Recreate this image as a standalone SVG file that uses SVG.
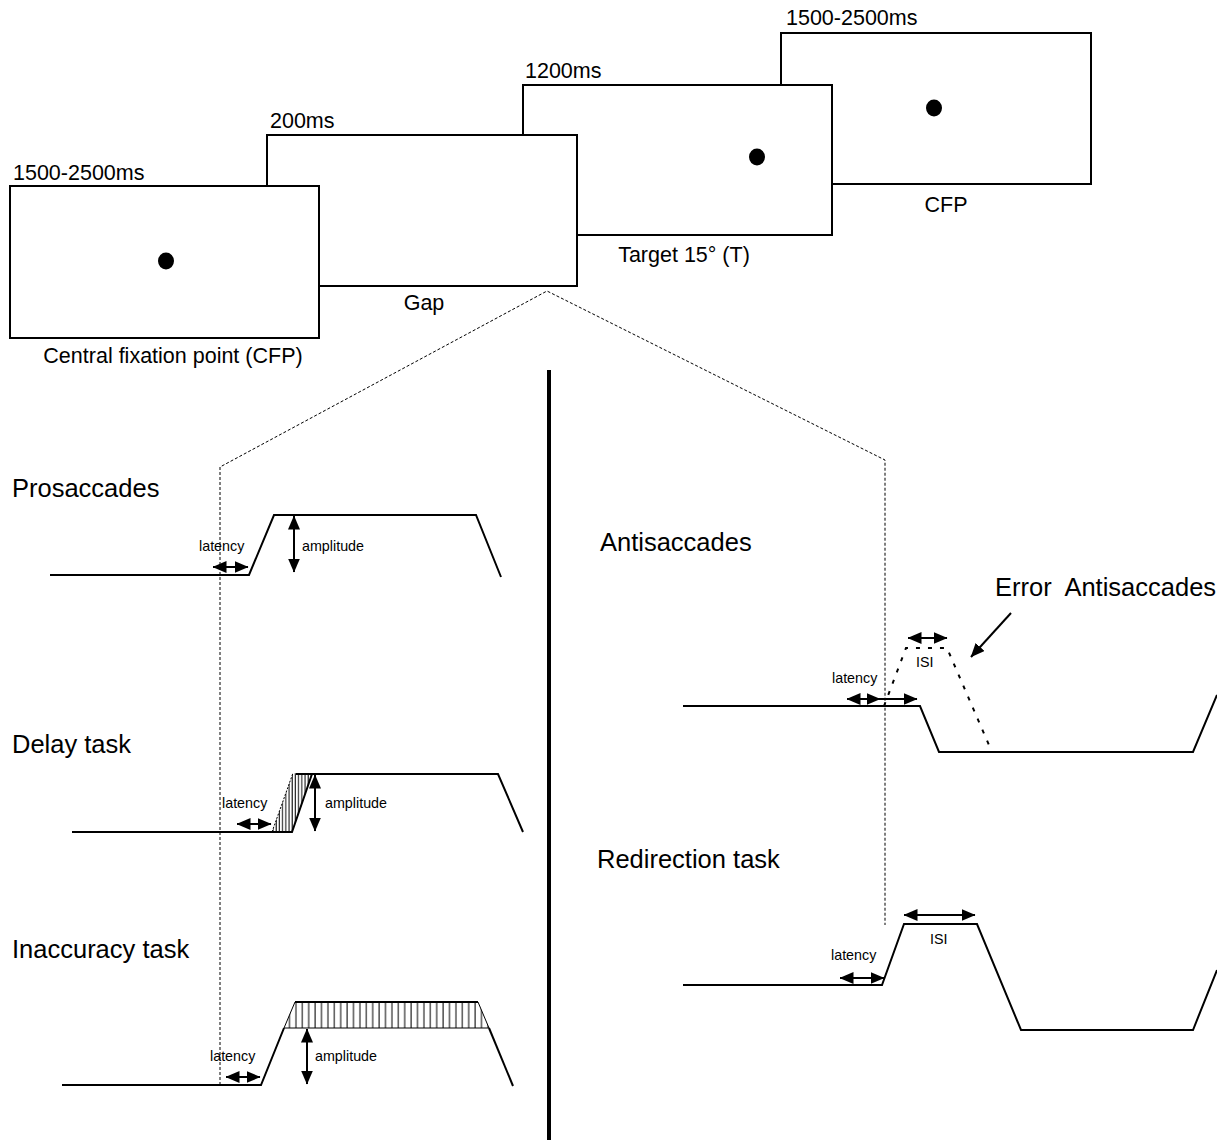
<svg xmlns="http://www.w3.org/2000/svg" width="1217" height="1140" viewBox="0 0 1217 1140">
<style>
text{font-family:"Liberation Sans",Arial,sans-serif;fill:#000}
.lab{font-size:21.5px}
.ttl{font-size:25.5px}
.sm{font-size:14.3px}
.box{fill:#fff;stroke:#000;stroke-width:2}
.tr{fill:none;stroke:#000;stroke-width:2;stroke-linejoin:miter}
.thin{fill:none;stroke:#000;stroke-width:1}
.dash{fill:none;stroke:#000;stroke-width:1;stroke-dasharray:3,2}
.arr{stroke:#000;stroke-width:2;marker-start:url(#ah);marker-end:url(#ah)}
</style>
<defs>
<marker id="ah" viewBox="0 0 14 12" refX="13.5" refY="6" markerWidth="14" markerHeight="12" markerUnits="userSpaceOnUse" orient="auto-start-reverse"><path d="M0,0 L14,6 L0,12 z" fill="#000"/></marker>
<pattern id="hd" width="3.2" height="10" patternUnits="userSpaceOnUse"><line x1="1" y1="0" x2="1" y2="10" stroke="#000" stroke-width="1"/></pattern>
<pattern id="hi" width="6.4" height="10" patternUnits="userSpaceOnUse" x="0.5"><line x1="1" y1="0" x2="1" y2="10" stroke="#000" stroke-width="1"/></pattern>
</defs>

<g id="screens">
<g id="box4"><rect class="box" x="781" y="33" width="310" height="151"/><ellipse cx="934" cy="108" rx="8" ry="8.5"/><text class="lab" x="786" y="25">1500-2500ms</text><text class="lab" x="946" y="212" text-anchor="middle">CFP</text></g>
<g id="box3"><rect class="box" x="523" y="85" width="309" height="150"/><ellipse cx="757" cy="157" rx="8" ry="8.5"/><text class="lab" x="525" y="78">1200ms</text><text class="lab" x="684" y="262" text-anchor="middle">Target 15° (T)</text></g>
<g id="box2"><rect class="box" x="267" y="135" width="310" height="151"/><text class="lab" x="270" y="128">200ms</text><text class="lab" x="424" y="310" text-anchor="middle">Gap</text></g>
<g id="box1"><rect class="box" x="10" y="186" width="309" height="152"/><ellipse cx="166" cy="261" rx="8" ry="8.5"/><text class="lab" x="13" y="180">1500-2500ms</text><text class="lab" x="173" y="363" text-anchor="middle">Central fixation point (CFP)</text></g>
</g>

<g id="connectors">
<path class="dash" d="M220,1085 L220,467 L547,291 L885,460 L885,925"/>
<line x1="549" y1="370" x2="549" y2="1140" stroke="#000" stroke-width="4"/>
</g>

<g id="prosaccades">
<text class="ttl" x="12" y="497">Prosaccades</text>
<polyline class="tr" points="50,575 249,575 274,515 476,515 501,577"/>
<line class="arr" x1="213" y1="567" x2="248" y2="567"/>
<text class="sm" x="199" y="551">latency</text>
<line class="arr" x1="294" y1="516" x2="294" y2="572"/>
<text class="sm" x="302" y="551">amplitude</text>
</g>

<g id="delay">
<text class="ttl" x="12" y="753">Delay task</text>
<polygon points="272,832 293,773 312,775 292,832" fill="url(#hd)"/>
<line x1="272" y1="832" x2="293" y2="773" stroke="#000" stroke-width="1" stroke-dasharray="2,1.5"/>
<polyline class="tr" points="72,832 292,832 312,774"/>
<polyline class="tr" points="296,774 498,774 523,832"/>
<line class="arr" x1="237" y1="824" x2="271" y2="824"/>
<text class="sm" x="222" y="808">latency</text>
<line class="arr" x1="315" y1="775" x2="315" y2="831"/>
<text class="sm" x="325" y="808">amplitude</text>
</g>

<g id="inaccuracy">
<text class="ttl" x="12" y="958">Inaccuracy task</text>
<polygon points="284,1028 295,1002 478,1002 489,1028" fill="url(#hi)" stroke="#000" stroke-width="1"/>
<polyline class="tr" points="62,1085 261,1085 284,1028"/>
<polyline class="tr" points="295,1002 478,1002"/>
<polyline class="tr" points="489,1028 513,1086"/>
<line class="arr" x1="226" y1="1077" x2="260" y2="1077"/>
<text class="sm" x="210" y="1061">latency</text>
<line class="arr" x1="307" y1="1029" x2="307" y2="1084"/>
<text class="sm" x="315" y="1061">amplitude</text>
</g>

<g id="antisaccades">
<text class="ttl" x="600" y="551">Antisaccades</text>
<polyline class="tr" points="683,706 920,706 939,752 1193,752 1217,695"/>
<polyline fill="none" stroke="#000" stroke-width="2" stroke-dasharray="4,8" points="884,706 906,648 947,648 992,752"/>
<line class="arr" x1="908" y1="638" x2="947" y2="638"/>
<text class="sm" x="916" y="667">ISI</text>
<line class="arr" x1="847" y1="699" x2="880" y2="699"/>
<line x1="880" y1="699" x2="917" y2="699" stroke="#000" stroke-width="2" marker-end="url(#ah)"/>
<text class="sm" x="832" y="683">latency</text>
<text class="ttl" x="995" y="596" xml:space="preserve">Error  Antisaccades</text>
<line x1="1011" y1="613" x2="971" y2="657" stroke="#000" stroke-width="2" marker-end="url(#ah)"/>
</g>

<g id="redirection">
<text class="ttl" x="597" y="868">Redirection task</text>
<polyline class="tr" points="683,985 882,985 904,924 977,924 1021,1030 1193,1030 1217,970"/>
<line class="arr" x1="904" y1="915" x2="975" y2="915"/>
<text class="sm" x="930" y="944">ISI</text>
<line class="arr" x1="840" y1="978" x2="884" y2="978"/>
<text class="sm" x="831" y="960">latency</text>
</g>
</svg>
